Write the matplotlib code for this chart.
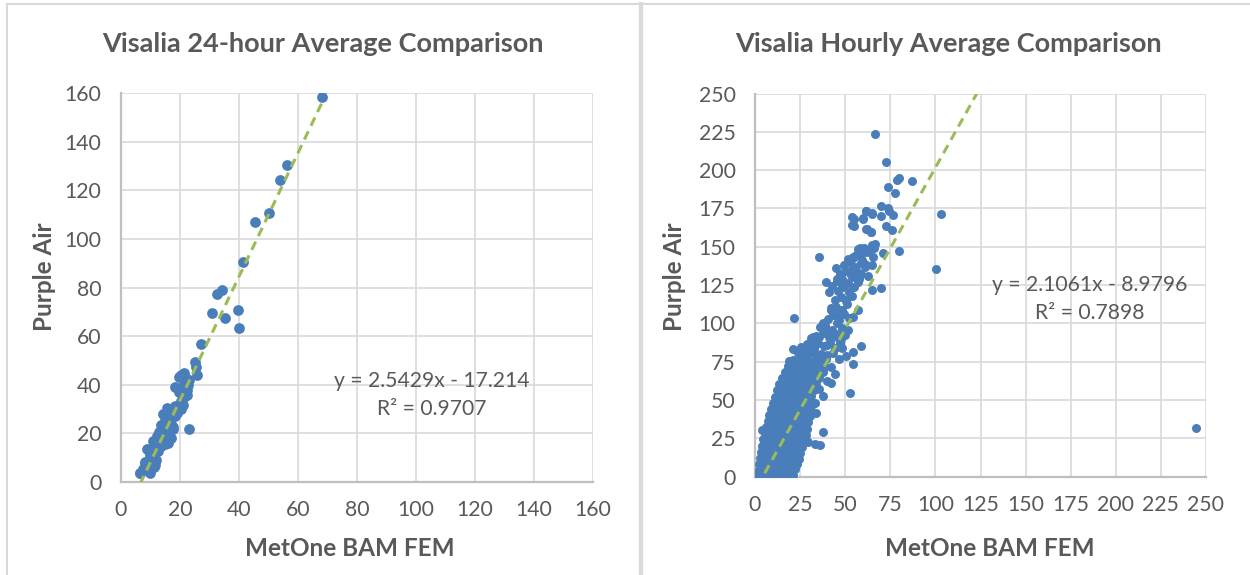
import matplotlib.pyplot as plt
from matplotlib.lines import Line2D

plt.rcParams['font.family'] = ['Lato', 'DejaVu Sans']

TEXT = "#595959"
GRID = "#D9D9D9"
AXIS = "#BFBFBF"
BLUE = "#4A7EBB"
GREEN = "#9BBB59"

# 24-hour averages (MetOne BAM FEM, Purple Air)
day_pts = [
    (68.3, 158.5), (56.2, 130.5), (54.0, 124.3), (50.0, 110.7), (45.4, 106.9),
    (41.4, 90.5), (32.4, 77.5), (34.3, 78.9), (30.9, 69.4), (39.5, 70.7),
    (35.2, 67.4), (40.0, 63.5), (27.1, 56.7), (25.2, 49.2), (25.5, 47.1),
    (25.7, 44.0), (21.2, 44.9), (19.5, 43.1), (21.9, 42.7), (18.4, 38.9),
    (22.2, 37.7), (21.2, 34.8), (23.0, 21.7), (20.5, 29.9), (22.8, 39.9),
    (22.3, 35.8), (16.6, 29.6), (15.5, 26.9), (14.3, 22.7), (13.2, 18.6),
    (12.1, 14.5), (9.8, 10.4), (8.1, 7.7), (6.4, 3.6), (6.6, 3.9),
    (7.3, 5.4), (8.0, 8.1), (9.7, 3.9), (9.7, 11.5), (11.5, 6.9),
    (11.9, 9.2), (10.8, 13.7), (13.6, 14.8), (15.0, 15.5), (15.9, 16.0),
    (14.3, 18.3), (12.2, 19.0), (17.0, 18.3), (17.7, 22.8), (13.6, 23.5),
    (15.0, 26.5), (15.7, 30.3), (17.0, 28.8), (18.4, 31.1), (19.8, 29.9),
    (20.5, 33.3), (21.9, 35.6), (22.3, 37.9), (19.8, 37.1), (12.9, 20.5),
    (10.8, 16.7), (8.7, 13.7), (16.3, 25.0), (14.3, 28.1), (11.2, 6.2),
    (10.5, 10.8), (12.6, 12.6), (14.6, 21.0), (16.8, 24.0), (18.2, 27.0),
    (20.9, 31.5), (13.4, 16.9), (17.5, 22.0), (11.0, 8.5), (18.9, 28.5),
    (16.2, 20.4), (21.5, 40.5), (23.1, 42.0), (20.2, 43.9),
]

# hourly averages: sparse upper points first, then the dense lower cluster
hour_pts = [
    (66.7, 223.7), (72.8, 205.1), (78.9, 193.5), (79.8, 194.8), (86.9, 192.9),
    (73.9, 189.2), (77.8, 185.3), (103.1, 171.6), (69.7, 176.4), (73.9, 175.1),
    (74.3, 173.1), (76.7, 170.5), (69.7, 170.3), (61.5, 173.5), (64.9, 171.2),
    (59.7, 169.0), (53.8, 169.2), (54.7, 163.5), (72.8, 163.5), (75.8, 160.7),
    (61.9, 161.4), (64.5, 159.4), (35.6, 143.5), (79.8, 147.4), (58.2, 149.0),
    (60.0, 147.9), (61.9, 146.8), (64.7, 151.1), (54.5, 142.5), (65.6, 143.5),
    (71.1, 146.1), (100.2, 135.2), (244.2, 31.6), (70.0, 123.0), (65.0, 122.0),
    (65.1, 138.3), (52.8, 54.3), (21.8, 103.3), (58.6, 85.4), (54.3, 73.4),
    (54.5, 81.3), (51.7, 95.7), (37.9, 29.4), (36.0, 20.8), (33.4, 21.3),
    (29.1, 40.7), (20.9, 83.5), (25.9, 83.7), (18.8, 75.8), (28.7, 86.6),
    (32.3, 90.9), (39.4, 126.8), (41.0, 120.8), (45.3, 129.2), (44.8, 136.4),
    (53.9, 163.9), (54.9, 168.4), (59.9, 168.0), (61.4, 173.4), (64.7, 172.2),
    (61.6, 161.5), (64.4, 159.6), (57.1, 148.3), (54.5, 143.5), (59.3, 145.9),
    (60.8, 138.8), (62.7, 131.1), (57.8, 129.2), (53.9, 135.2), (48.5, 124.4),
    (50.6, 114.8), (57.1, 108.9), (54.5, 104.1), (46.8, 105.7), (42.0, 110.0),
    (48.5, 95.7), (45.3, 90.9), (37.7, 100.5), (39.9, 95.7), (35.6, 90.9),
    (33.0, 86.1), (39.9, 86.1), (44.2, 83.7), (48.5, 83.7), (50.6, 78.9),
    (46.3, 76.6), (42.0, 71.8), (37.7, 69.4), (44.2, 67.0), (39.9, 62.2),
    (35.6, 57.4), (42.0, 61.0), (37.7, 52.6), (33.4, 47.8), (33.8, 41.4),
    (29.5, 22.8), (3.7, 30.5),
    # dense cluster
    (1.2, 0.8), (2.8, 0.3), (4.5, 1.1), (6.3, 0.4), (8.1, 1.2), (10.2, 0.6),
    (12.4, 1.0), (14.6, 0.5), (16.8, 1.3), (19.0, 0.7), (21.3, 1.1),
    (1.8, 3.6), (3.9, 4.4), (6.0, 3.8), (8.4, 4.6), (10.7, 3.9), (13.1, 4.5),
    (15.3, 3.7), (17.6, 4.3), (20.0, 4.0), (22.4, 4.8),
    (2.4, 8.3), (4.6, 7.6), (7.0, 8.5), (9.3, 7.8), (11.5, 8.6), (13.8, 7.9),
    (16.2, 8.4), (18.5, 7.7), (20.9, 8.8), (23.3, 8.1),
    (3.0, 12.4), (5.3, 11.7), (7.8, 12.6), (10.1, 11.8), (12.6, 12.3),
    (14.9, 11.6), (17.4, 12.7), (19.8, 11.9), (22.1, 12.5), (24.2, 11.8),
    (3.4, 16.2), (5.9, 15.6), (8.3, 16.5), (10.9, 15.8), (13.4, 16.6),
    (15.8, 15.7), (18.3, 16.4), (20.7, 15.9), (23.1, 16.7), (25.0, 15.5),
    (4.0, 20.3), (6.5, 19.6), (9.1, 20.6), (11.6, 19.8), (14.0, 20.4),
    (16.6, 19.7), (19.1, 20.5), (21.6, 19.9), (24.0, 20.8), (26.2, 19.6),
    (4.6, 24.5), (7.2, 23.7), (9.8, 24.6), (12.3, 23.9), (14.9, 24.4),
    (17.4, 23.6), (19.9, 24.7), (22.5, 24.0), (25.0, 24.6), (27.3, 23.8),
    (5.3, 28.3), (7.9, 27.7), (10.5, 28.6), (13.1, 27.8), (15.6, 28.5),
    (18.2, 27.6), (20.7, 28.4), (23.3, 27.9), (25.9, 28.7), (28.2, 27.5),
    (6.2, 32.4), (8.8, 31.6), (11.4, 32.5), (13.9, 31.8), (16.5, 32.6),
    (19.0, 31.7), (21.6, 32.3), (24.1, 31.9), (26.7, 32.6), (28.9, 31.4),
    (7.1, 36.2), (9.7, 35.7), (12.3, 36.5), (14.8, 35.8), (17.4, 36.4),
    (19.9, 35.6), (22.5, 36.3), (25.1, 35.9), (27.6, 36.7), (29.6, 35.5),
    (8.0, 40.4), (10.6, 39.6), (13.2, 40.5), (15.7, 39.8), (18.3, 40.3),
    (20.8, 39.7), (23.4, 40.6), (25.9, 39.9), (28.4, 40.5), (30.3, 39.4),
    (8.9, 44.3), (11.5, 43.7), (14.1, 44.6), (16.6, 43.8), (19.2, 44.4),
    (21.7, 43.6), (24.3, 44.5), (26.8, 43.9), (29.2, 44.6), (31.0, 43.5),
    (9.8, 48.4), (12.4, 47.6), (15.0, 48.5), (17.5, 47.8), (20.1, 48.3),
    (22.6, 47.7), (25.2, 48.6), (27.7, 47.9), (30.1, 48.5), (31.8, 47.4),
    (11.0, 52.3), (13.5, 51.7), (16.1, 52.6), (18.6, 51.8), (21.2, 52.4),
    (23.7, 51.6), (26.3, 52.5), (28.8, 51.9), (31.2, 52.6),
    (12.2, 56.4), (14.7, 55.6), (17.3, 56.5), (19.8, 55.8), (22.4, 56.3),
    (24.9, 55.7), (27.5, 56.6), (30.0, 55.9), (32.6, 56.5),
    (13.4, 60.3), (15.9, 59.7), (18.5, 60.6), (21.0, 59.8), (23.6, 60.4),
    (26.1, 59.6), (28.7, 60.5), (31.2, 59.9), (33.8, 60.7),
    (14.8, 64.4), (17.3, 63.6), (19.9, 64.5), (22.4, 63.8), (25.0, 64.3),
    (27.5, 63.7), (30.1, 64.6), (32.8, 63.9), (35.6, 64.5),
    (16.4, 68.3), (19.0, 67.7), (21.6, 68.6), (24.1, 67.8), (26.7, 68.4),
    (29.2, 67.6), (31.8, 68.5), (34.5, 67.9), (37.5, 68.6),
    (18.5, 72.4), (21.2, 71.6), (24.0, 72.5), (26.8, 71.8), (29.6, 72.3),
    (32.4, 71.7), (35.3, 72.6), (38.4, 71.9),
    (21.0, 76.3), (24.0, 75.7), (27.0, 76.6), (30.0, 75.8), (33.0, 76.4),
    (36.2, 75.6), (39.5, 76.5),
    (23.8, 80.4), (27.0, 79.6), (30.2, 80.5), (33.4, 79.8), (36.6, 80.3),
    (40.0, 79.7), (43.0, 80.6),
    (25.5, 84.5), (29.0, 86.0), (32.5, 83.0), (35.0, 87.5), (38.5, 85.0),
    (41.5, 88.0), (44.5, 84.0), (47.0, 87.0), (31.0, 90.5), (34.0, 92.0),
    (37.5, 94.0), (41.0, 91.0), (44.0, 93.5), (47.5, 90.0), (50.0, 92.5),
    (36.0, 97.5), (39.0, 99.0), (42.5, 96.0), (45.5, 100.0), (48.5, 97.0),
    (40.5, 103.0), (43.5, 105.5), (46.5, 102.0), (49.5, 106.0), (52.0, 103.5),
    (42.0, 108.5), (45.0, 111.0), (48.0, 109.0), (51.0, 112.5), (44.5, 115.0),
    (47.5, 117.5), (50.5, 115.5), (53.5, 118.0), (46.0, 121.0), (49.0, 123.5),
    (52.0, 120.5), (55.0, 124.0), (42.5, 124.5), (45.5, 127.5), (48.5, 129.0),
    (51.5, 126.5), (54.5, 130.0), (57.0, 127.0), (47.0, 132.5), (50.0, 134.0),
    (53.0, 131.5), (56.0, 135.0), (59.0, 132.5), (49.5, 138.0), (52.5, 140.0),
    (55.5, 137.0), (58.5, 139.5), (61.0, 136.5), (51.5, 142.0), (56.0, 144.5),
    (59.5, 141.5), (58.0, 148.0), (60.5, 149.0), (63.0, 147.5), (66.0, 149.5),
    (66.5, 151.5),
]

# trendline coefficients shown on the chart
day_fit = (2.5429, -17.214, "0.9707")
hour_fit = (2.1061, -8.9796, "0.7898")

fig = plt.figure(figsize=(12.5, 5.75), dpi=100)

# chart frames
for ln in [
    Line2D([7 / 1250, 1], [1 - 4 / 575, 1 - 4 / 575], color=GRID, lw=1.5),
    Line2D([7 / 1250, 7 / 1250], [0, 1 - 4 / 575], color=GRID, lw=1.5),
    Line2D([641 / 1250, 641 / 1250], [0, 1 - 4 / 575], color=GRID, lw=3),
]:
    fig.add_artist(ln)


def draw(rect, pts, fit, lim, step, msize, title, title_x, eq_xy, ylab_x, xlab_x):
    ax = fig.add_axes(rect)
    xs = [p[0] for p in pts]
    ys = [p[1] for p in pts]
    ax.scatter(xs, ys, s=msize, color=BLUE, linewidths=0, zorder=3)
    m, b, r2 = fit
    x0, x1 = min(xs), max(xs)
    ax.plot([x0, x1], [m * x0 + b, m * x1 + b], color=GREEN, lw=2.2,
            ls=(0, (3, 2)), zorder=4)
    ax.set_xlim(0, lim)
    ax.set_ylim(0, lim)
    ticks = list(range(0, lim + 1, step))
    ax.set_xticks(ticks)
    ax.set_yticks(ticks)
    ax.grid(True, color=GRID, lw=1.2, zorder=0)
    ax.set_axisbelow(True)
    for s in ["top", "right"]:
        ax.spines[s].set_visible(False)
    for s in ["left", "bottom"]:
        ax.spines[s].set_color(AXIS)
        ax.spines[s].set_linewidth(1.6)
    ax.tick_params(length=0, labelsize=15.3, colors=TEXT)
    ax.tick_params(axis="y", pad=14)
    ax.tick_params(axis="x", pad=13)
    sign = "-" if b < 0 else "+"
    ax.text(eq_xy[0], eq_xy[1], f"y = {m}x {sign} {abs(b)}", ha="center",
            va="center", fontsize=15.2, color=TEXT)
    ax.text(eq_xy[0], eq_xy[2], f"R² = {r2}", ha="center", va="center",
            fontsize=15.2, color=TEXT)
    fig.text(title_x / 1250, 1 - 44 / 575, title, ha="center", va="center",
             fontsize=19.5, fontweight="bold", color=TEXT)
    fig.text(ylab_x / 1250, 1 - 277 / 575, "Purple Air", rotation=90,
             ha="center", va="center", fontsize=17.5, fontweight="bold",
             color=TEXT)
    fig.text(xlab_x / 1250, 1 - 548 / 575, "MetOne BAM FEM", ha="center",
             va="center", fontsize=17.5, fontweight="bold", color=TEXT)
    return ax


draw([121 / 1250, 1 - 482 / 575, 472 / 1250, 389 / 575], day_pts, day_fit,
     160, 20, 60, "Visalia 24-hour Average Comparison", 323,
     (105.4, 41.5, 30.0), 44.5, 350)
draw([755 / 1250, 1 - 476.7 / 575, 451 / 1250, 383.2 / 575], hour_pts,
     hour_fit, 250, 25, 42, "Visalia Hourly Average Comparison", 948,
     (185.7, 124.9, 106.5), 675, 990)

fig.savefig("out.png", dpi=100)
